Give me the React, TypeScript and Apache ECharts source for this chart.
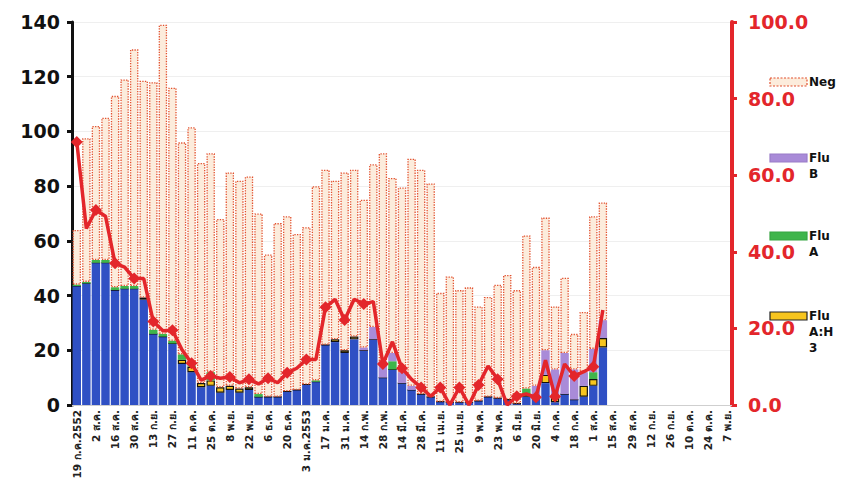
import React, { useEffect, useRef } from "react";
import * as echarts from "echarts";

const weeks = ["19 ก.ค.2552","26 ก.ค.","2 ส.ค.","9 ส.ค.","16 ส.ค.","23 ส.ค.","30 ส.ค.","6 ก.ย.","13 ก.ย.","20 ก.ย.","27 ก.ย.","4 ต.ค.","11 ต.ค.","18 ต.ค.","25 ต.ค.","1 พ.ย.","8 พ.ย.","15 พ.ย.","22 พ.ย.","29 พ.ย.","6 ธ.ค.","13 ธ.ค.","20 ธ.ค.","27 ธ.ค.","3 ม.ค.2553","10 ม.ค.","17 ม.ค.","24 ม.ค.","31 ม.ค.","7 ก.พ.","14 ก.พ.","21 ก.พ.","28 ก.พ.","7 มี.ค.","14 มี.ค.","21 มี.ค.","28 มี.ค.","4 เม.ย.","11 เม.ย.","18 เม.ย.","25 เม.ย.","2 พ.ค.","9 พ.ค.","16 พ.ค.","23 พ.ค.","30 พ.ค.","6 มิ.ย.","13 มิ.ย.","20 มิ.ย.","27 มิ.ย.","4 ก.ค.","11 ก.ค.","18 ก.ค.","25 ก.ค.","1 ส.ค.","8 ส.ค.","15 ส.ค.","22 ส.ค.","29 ส.ค.","5 ก.ย.","12 ก.ย.","19 ก.ย.","26 ก.ย.","3 ต.ค.","10 ต.ค.","17 ต.ค.","24 ต.ค.","31 ต.ค.","7 พ.ย."];

const h1n1 = [43.5,44.5,52,52,42,42.5,42.5,38.5,26,25,22.5,15,12,6.5,7,4.5,5.5,4.5,5.5,3,3,3,5,5.5,7.5,8.5,22,23,19,24,20,24,10,13,8,5.5,4,3,1.2,1,1,1,1.5,3,2.5,2,0.5,3,3,8,1,4,2,3,7,21];
const fluAH3 = [0,0,0,0,0,0,0,0.8,0,0,0,1.5,2,1.5,2,2,1.5,1.5,1,0,0,0,0,0,0,0,0,1,1,1,0,0,0,0,0,0,0,0,0,0,0,0,0,0,0,0,0,1,0,3,2,0,0,4,2.5,3.5];
const fluA = [0.5,0.5,1,1,1,1,1,0,1.5,1,1,2,0.5,0,3,0,0,0,0,1,0,0,0,0,0,0.5,0,0,0,0,0,0,0,3,0,0,0,0,0,0,0,0,0,0,0,0,0,2,0,0,0,0,0,0,2.5,0];
const fluB = [0,0,0,0,0,0,0,0,0,0,0,0,0,0,0,0,0,0,0,0,0,0,0,0,0,0,0,0,0,0,1,4.5,6,3,4,1.5,0,0,0,0,0,0,0,0,0,0,0,0,4,9,10,15,11,5,8.5,6.5];
const neg = [20,52.5,49,52,70,75.5,86.5,79.2,90.5,113,92.5,77.5,87,80.5,80,61.5,78,76,77,66,52,63.5,64,57,57.5,71,64,58,65,61,54,59.5,76,64,67.5,83,82,78,39.8,46,41,42,34.5,36.5,41.5,45.5,41.5,56,43.5,48.5,23,27.5,13,22,48.5,43];
const pctPositive = [68.7,46.1,50.9,49.3,37,36,33,33,21.8,19.4,19.5,14.4,10.9,6.5,7.6,7,7.3,5.8,6.7,5.5,7,5.8,8.4,9.6,11.9,11.9,25.5,27.6,22.2,27.6,26.4,27,10.7,16.5,9.6,6.7,4.6,2.3,4.6,0,4.6,0,5.2,10.2,6.7,0,2.3,2.9,2,11.7,2.2,10.7,7.6,8.7,10,24.8];

const leftTicks = { min: 0, max: 140, interval: 20 };
const rightTicks = { min: 0, max: 100, interval: 20 };

const RED = "#e3262b";
const FONT = "DejaVu Sans";

export default function App() {
  const ref = useRef<HTMLDivElement>(null);
  useEffect(() => {
    if (!ref.current) return;
    const chart = echarts.init(ref.current, null, { renderer: "svg" });
    const barCommon = { type: "bar", stack: "total", barCategoryGap: "12%", yAxisIndex: 0 };
    const legendItems = [
      { y: 82, text: "Neg", fill: "#fcecdc", stroke: "#e2502e", dash: [2, 1.5] },
      { y: 158, text: "Flu\nB", fill: "#a98bd8", stroke: "#9a7cc8", dash: null },
      { y: 236, text: "Flu\nA", fill: "#3fb54b", stroke: "#37a542", dash: null },
      { y: 316, text: "Flu\nA:H\n3", fill: "#f7c51e", stroke: "#222", dash: null },
    ];
    const graphics: any[] = [];
    legendItems.forEach((it) => {
      graphics.push({
        type: "rect",
        shape: { x: 770, y: it.y - 4, width: 37, height: 8 },
        style: { fill: it.fill, stroke: it.stroke, lineWidth: 1.2, lineDash: it.dash || undefined },
      });
      graphics.push({
        type: "text",
        x: 809,
        y: it.y - 8,
        style: { text: it.text, fill: "#111", font: `bold 12px "${FONT}"`, lineHeight: 16, verticalAlign: "top" },
      });
    });
    chart.setOption({
      animation: false,
      backgroundColor: "#ffffff",
      grid: { left: 72, right: 109, top: 22, bottom: 81 },
      xAxis: {
        type: "category",
        data: weeks,
        boundaryGap: true,
        axisLine: { lineStyle: { color: "#cfcfcf", width: 1 } },
        axisTick: { show: false },
        axisLabel: {
          interval: 1,
          rotate: 90,
          fontSize: 10.5,
          fontWeight: "bold",
          color: "#222",
          fontFamily: FONT,
          margin: 5,
        },
      },
      yAxis: [
        {
          type: "value",
          ...leftTicks,
          position: "left",
          axisLine: { show: true, lineStyle: { color: "#111", width: 3 } },
          axisTick: { show: true, length: 5, lineStyle: { color: "#111", width: 3 } },
          axisLabel: { color: "#111", fontSize: 19, fontWeight: "bold", fontFamily: FONT, margin: 12 },
          splitLine: { show: true, lineStyle: { color: "#efefef", width: 1 } },
        },
        {
          type: "value",
          ...rightTicks,
          position: "right",
          axisLine: { show: true, lineStyle: { color: RED, width: 4 } },
          axisTick: { show: true, length: 5, lineStyle: { color: RED, width: 3 } },
          axisLabel: {
            color: RED,
            fontSize: 19,
            fontWeight: "bold",
            fontFamily: FONT,
            margin: 16,
            formatter: (v: number) => v.toFixed(1),
          },
          splitLine: { show: false },
        },
      ],
      series: [
        { ...barCommon, name: "Pandemic H1N1 2009", data: h1n1, itemStyle: { color: "#2f50c4" } },
        { ...barCommon, name: "Flu A:H3", data: fluAH3, itemStyle: { color: "#f7c51e", borderColor: "#111", borderWidth: 1.2 } },
        { ...barCommon, name: "Flu A", data: fluA, itemStyle: { color: "#3fb54b" } },
        { ...barCommon, name: "Flu B", data: fluB, itemStyle: { color: "#a98bd8" } },
        {
          ...barCommon,
          name: "Neg",
          data: neg,
          itemStyle: { color: "#fcecdc", borderColor: "#e2502e", borderWidth: 1.3, borderType: "dotted" },
        },
        {
          type: "line",
          name: "% positive",
          yAxisIndex: 1,
          data: pctPositive,
          symbol: "diamond",
          symbolSize: 12,
          lineStyle: { color: RED, width: 3.5 },
          itemStyle: { color: RED },
          z: 10,
        },
      ],
      graphic: graphics,
    });
    return () => chart.dispose();
  }, []);
  return <div ref={ref} style={{ position: "fixed", left: 0, top: 0, width: 841, height: 486 }} />;
}
